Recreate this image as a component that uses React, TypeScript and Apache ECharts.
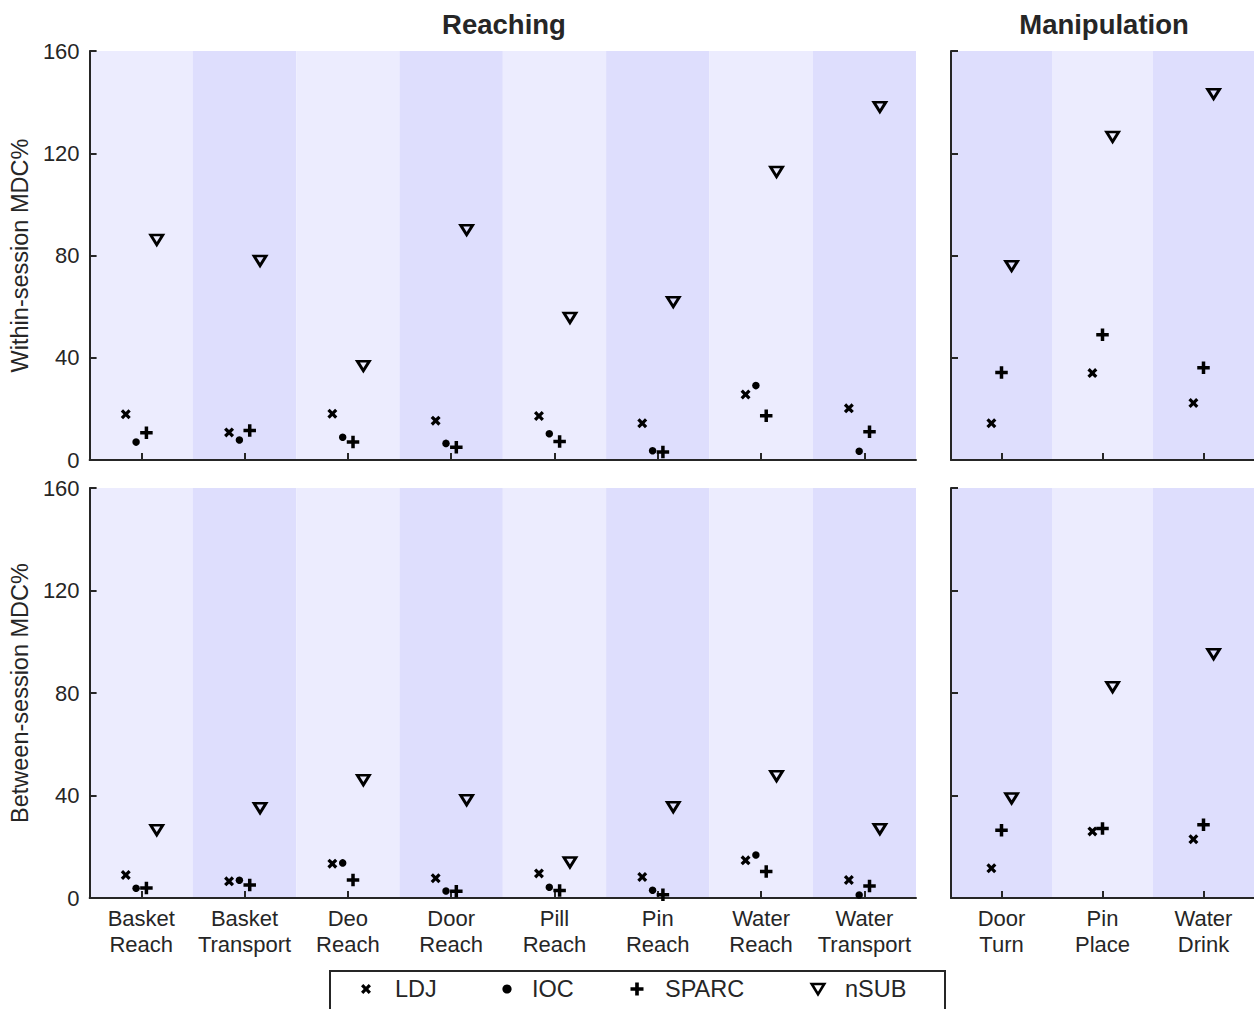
import React, { useEffect, useRef } from "react";
import * as echarts from "echarts";

// Task categories
const reachTasks = [
  "Basket Reach",
  "Basket Transport",
  "Deo Reach",
  "Door Reach",
  "Pill Reach",
  "Pin Reach",
  "Water Reach",
  "Water Transport",
];
const manipTasks = ["Door Turn", "Pin Place", "Water Drink"];

// Within-session MDC% (reaching tasks)
const withinReachLDJ = [17.9, 10.8, 18.1, 15.4, 17.2, 14.4, 25.6, 20.2];
const withinReachIOC = [7.0, 7.8, 8.9, 6.5, 10.3, 3.6, 29.1, 3.4];
const withinReachSPARC = [10.7, 11.5, 7.0, 5.0, 7.2, 3.1, 17.3, 11.1];
const withinReachNSUB = [86.1, 77.9, 36.8, 90.0, 55.6, 61.8, 112.7, 138.1];

// Within-session MDC% (manipulation tasks)
const withinManipLDJ = [14.4, 34.0, 22.3];
const withinManipSPARC = [34.2, 49.0, 36.1];
const withinManipNSUB = [75.9, 126.4, 143.2];

// Between-session MDC% (reaching tasks)
const betweenReachLDJ = [9.0, 6.5, 13.4, 7.7, 9.6, 8.2, 14.7, 7.0];
const betweenReachIOC = [3.8, 6.9, 13.7, 2.7, 4.2, 3.0, 16.8, 1.2];
const betweenReachSPARC = [3.9, 5.1, 7.0, 2.6, 2.9, 1.3, 10.3, 4.7];
const betweenReachNSUB = [26.5, 35.1, 46.0, 38.2, 13.9, 35.5, 47.6, 26.9];

// Between-session MDC% (manipulation tasks)
const betweenManipLDJ = [11.6, 26.0, 22.9];
const betweenManipSPARC = [26.4, 27.1, 28.6];
const betweenManipNSUB = [38.9, 82.3, 95.2];

const yTicks = [0, 40, 80, 120, 160];
const measures = ["LDJ", "IOC", "SPARC", "nSUB"];
const panelTitles = ["Reaching", "Manipulation"];
const rowNames = ["Within-session MDC%", "Between-session MDC%"];

const FONT = "'Liberation Sans', Arial, sans-serif";
const INK = "#262626";
const BAND_LIGHT = "#ECECFE";
const BAND_DARK = "#DEDEFD";

const SYM_X = "path://M2.3,0L5,2.7L7.7,0L10,2.3L7.3,5L10,7.7L7.7,10L5,7.3L2.3,10L0,7.7L2.7,5L0,2.3Z";
const SYM_PLUS = "path://M3.6,0H6.4V3.6H10V6.4H6.4V10H3.6V6.4H0V3.6H3.6Z";
const SYM_TRI = "path://M0,0H10L5,8Z";

const symbolStyle: Record<string, any> = {
  LDJ: { symbol: SYM_X, symbolSize: 10, itemStyle: { color: "#000", opacity: 1 } },
  IOC: { symbol: "circle", symbolSize: 7.5, itemStyle: { color: "#000", opacity: 1 } },
  SPARC: { symbol: SYM_PLUS, symbolSize: 12.5, itemStyle: { color: "#000", opacity: 1 } },
  nSUB: {
    symbol: SYM_TRI,
    symbolSize: [12, 9.6],
    itemStyle: { color: "rgba(0,0,0,0)", borderColor: "#000", borderWidth: 2.8, opacity: 1 },
  },
};

const reachOffsets: Record<string, number> = { LDJ: -0.15, IOC: -0.05, SPARC: 0.05, nSUB: 0.15 };
const manipOffsets: Record<string, number> = { LDJ: -0.1, SPARC: 0, nSUB: 0.1 };

const panels = [
  {
    grid: { left: 86, top: 51, width: 830, height: 409 },
    cats: reachTasks,
    offsets: reachOffsets,
    bands: [BAND_LIGHT, BAND_DARK],
    data: { LDJ: withinReachLDJ, IOC: withinReachIOC, SPARC: withinReachSPARC, nSUB: withinReachNSUB },
    yLabels: true,
    xLabels: false,
    yName: rowNames[0],
  },
  {
    grid: { left: 951, top: 51, width: 303, height: 409 },
    cats: manipTasks,
    offsets: manipOffsets,
    bands: [BAND_DARK, BAND_LIGHT],
    data: { LDJ: withinManipLDJ, SPARC: withinManipSPARC, nSUB: withinManipNSUB },
    yLabels: false,
    xLabels: false,
    yName: "",
  },
  {
    grid: { left: 86, top: 488, width: 830, height: 410 },
    cats: reachTasks,
    offsets: reachOffsets,
    bands: [BAND_LIGHT, BAND_DARK],
    data: { LDJ: betweenReachLDJ, IOC: betweenReachIOC, SPARC: betweenReachSPARC, nSUB: betweenReachNSUB },
    yLabels: true,
    xLabels: true,
    yName: rowNames[1],
  },
  {
    grid: { left: 951, top: 488, width: 303, height: 410 },
    cats: manipTasks,
    offsets: manipOffsets,
    bands: [BAND_DARK, BAND_LIGHT],
    data: { LDJ: betweenManipLDJ, SPARC: betweenManipSPARC, nSUB: betweenManipNSUB },
    yLabels: false,
    xLabels: true,
    yName: "",
  },
];

// Legend glyph outlines on a unit box, centred on (cx, cy) and scaled to w x h
const unitX = [[0.23, 0], [0.5, 0.27], [0.77, 0], [1, 0.23], [0.73, 0.5], [1, 0.77], [0.77, 1], [0.5, 0.73], [0.23, 1], [0, 0.77], [0.27, 0.5], [0, 0.23]];
const unitPlus = [[0.36, 0], [0.64, 0], [0.64, 0.36], [1, 0.36], [1, 0.64], [0.64, 0.64], [0.64, 1], [0.36, 1], [0.36, 0.64], [0, 0.64], [0, 0.36], [0.36, 0.36]];
const unitTri = [[0, 0], [1, 0], [0.5, 0.85]];
const place = (pts: number[][], cx: number, cy: number, w: number, h: number) =>
  pts.map(([u, v]) => [cx - w / 2 + u * w, cy - h / 2 + v * h]);

export default function App() {
  const ref = useRef<HTMLDivElement>(null);

  useEffect(() => {
    document.body.style.margin = "0";
    if (!ref.current) return;
    const chart = echarts.init(ref.current, undefined, { renderer: "svg" });

    const grid = panels.map((p) => ({ ...p.grid, containLabel: false }));

    const catAxes = panels.map((p, g) => ({
      type: "category",
      gridIndex: g,
      data: p.cats,
      boundaryGap: true,
      axisLine: { show: true, onZero: false, lineStyle: { color: INK, width: 2 } },
      axisTick: { show: true, inside: true, alignWithLabel: true, length: 7, interval: 0, lineStyle: { color: INK, width: 2 } },
      axisLabel: {
        show: p.xLabels,
        interval: 0,
        fontSize: 22,
        lineHeight: 26,
        margin: 7,
        color: INK,
        fontFamily: FONT,
        formatter: (v: string) => v.replace(" ", "\n"),
      },
      splitLine: { show: false },
      splitArea: { show: true, interval: 0, areaStyle: { color: p.bands } },
    }));

    const valAxes = panels.map((p, g) => ({
      type: "value",
      gridIndex: g,
      min: -0.5,
      max: p.cats.length - 0.5,
      show: false,
    }));

    const yAxis = panels.map((p, g) => ({
      type: "value",
      gridIndex: g,
      min: yTicks[0],
      max: yTicks[yTicks.length - 1],
      interval: yTicks[1] - yTicks[0],
      name: p.yName,
      nameLocation: "middle",
      nameGap: 48,
      nameTextStyle: { fontSize: 23.5, color: INK, fontFamily: FONT },
      axisLine: { show: true, onZero: false, lineStyle: { color: INK, width: 2 } },
      axisTick: { show: true, inside: true, length: 7, lineStyle: { color: INK, width: 2 } },
      axisLabel: { show: p.yLabels, fontSize: 22, color: INK, margin: 10, fontFamily: FONT },
      splitLine: { show: false },
      z: 3,
    }));

    const series: any[] = [];
    panels.forEach((p, g) => {
      measures.forEach((m) => {
        const vals = (p.data as Record<string, number[]>)[m];
        if (!vals) return;
        series.push({
          type: "scatter",
          name: m,
          xAxisIndex: panels.length + g,
          yAxisIndex: g,
          ...symbolStyle[m],
          symbolKeepAspect: false,
          data: vals.map((v, i) => [i + p.offsets[m], v]),
          z: 5,
        });
      });
    });

    const legendY = 989;
    const legendText = (x: number, text: string) => ({
      type: "text",
      x,
      y: legendY,
      style: { text, fontSize: 23.5, fill: INK, fontFamily: FONT, textAlign: "left", textVerticalAlign: "middle" },
    });

    const graphic = [
      {
        type: "text",
        x: 504,
        y: 24,
        style: { text: panelTitles[0], fontSize: 27.5, fontWeight: "bold", fill: INK, fontFamily: FONT, textAlign: "center", textVerticalAlign: "middle" },
      },
      {
        type: "text",
        x: 1104,
        y: 24,
        style: { text: panelTitles[1], fontSize: 27.5, fontWeight: "bold", fill: INK, fontFamily: FONT, textAlign: "center", textVerticalAlign: "middle" },
      },
      {
        type: "rect",
        shape: { x: 330, y: 971, width: 615, height: 60 },
        style: { fill: "#fff", stroke: INK, lineWidth: 2 },
      },
      { type: "polygon", shape: { points: place(unitX, 366, legendY, 10, 10) }, style: { fill: "#000" } },
      legendText(395, measures[0]),
      { type: "circle", shape: { cx: 507, cy: legendY, r: 4.6 }, style: { fill: "#000" } },
      legendText(532, measures[1]),
      { type: "polygon", shape: { points: place(unitPlus, 637, legendY, 13, 13) }, style: { fill: "#000" } },
      legendText(665, measures[2]),
      {
        type: "polygon",
        shape: { points: place(unitTri, 818, legendY + 1, 12.5, 12) },
        style: { fill: "none", stroke: "#000", lineWidth: 2.6 },
      },
      legendText(845, measures[3]),
    ];

    chart.setOption({
      animation: false,
      backgroundColor: "#fff",
      textStyle: { fontFamily: FONT },
      grid,
      xAxis: [...catAxes, ...valAxes],
      yAxis,
      series,
      graphic,
    });

    return () => chart.dispose();
  }, []);

  return <div ref={ref} style={{ width: 1254, height: 1009 }} />;
}
